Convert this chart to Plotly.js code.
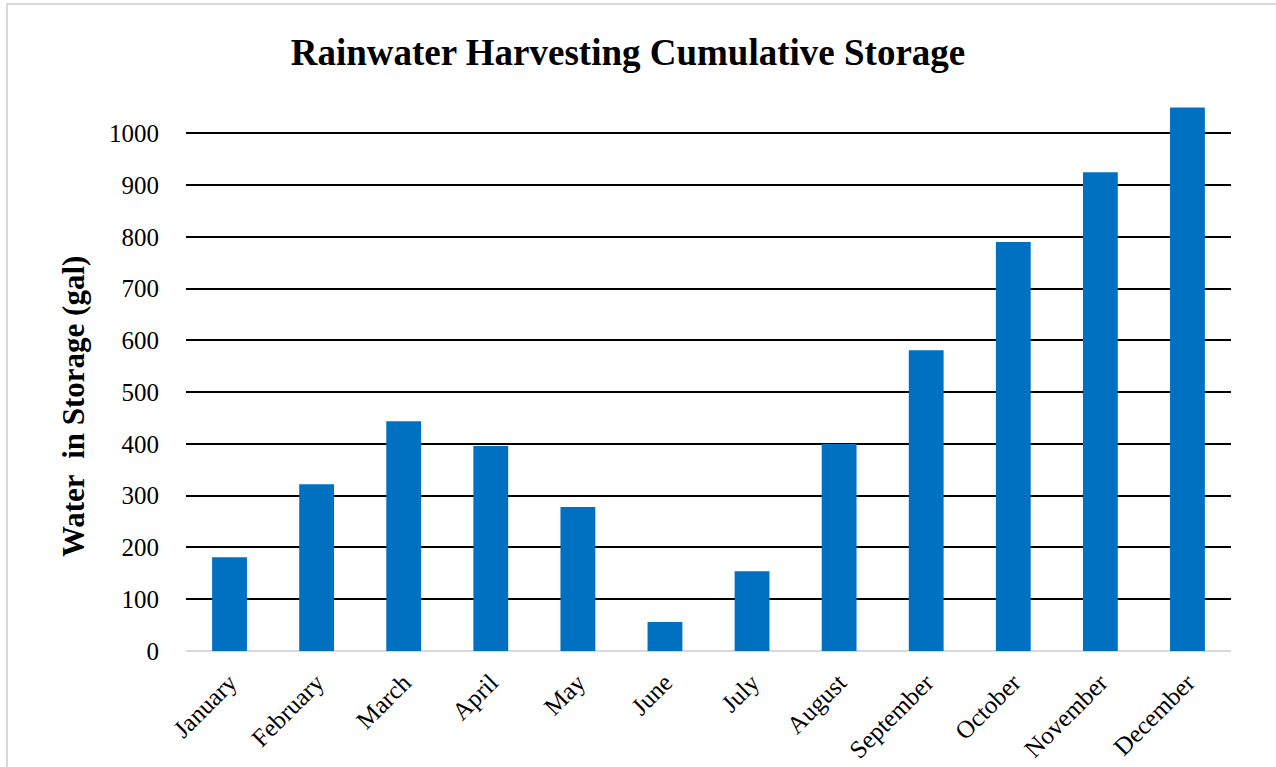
<!DOCTYPE html>
<html>
<head>
<meta charset="utf-8">
<script src="https://cdn.plot.ly/plotly-3.0.1.min.js"></script>
<style>
  html, body { margin: 0; padding: 0; background: #fff; overflow: hidden; }
  #frame { position: absolute; left: 6px; top: 3px; width: 1400px; height: 900px; border-left: 2px solid #d9d9d9; border-top: 2px solid #d9d9d9; }
  #chart { position: absolute; left: 0; top: 0; width: 1276px; height: 767px; }
</style>
</head>
<body>
<div id="frame"></div>
<div id="chart"></div>
<script>
const months = ["January", "February", "March", "April", "May", "June", "July", "August", "September", "October", "November", "December"];
const storage = [181, 322, 444, 396, 278, 56, 154, 400, 581, 790, 925, 1050];
const yTicks = [0, 100, 200, 300, 400, 500, 600, 700, 800, 900, 1000];

const serif = "'Liberation Serif', 'Times New Roman', serif";

const trace = {
  type: "bar",
  x: months,
  y: storage,
  marker: { color: "#0070C0" },
  hoverinfo: "x+y"
};

const layout = {
  width: 1276,
  height: 767,
  paper_bgcolor: "rgba(0,0,0,0)",
  plot_bgcolor: "rgba(0,0,0,0)",
  margin: { l: 186, r: 45, t: 107, b: 116 },
  bargap: 0.6,
  showlegend: false,
  font: { family: serif, color: "#000" },
  title: {
    text: "<b>Rainwater Harvesting Cumulative Storage</b>",
    font: { family: serif, size: 37, color: "#000" },
    x: (628 + 0) / 1276, xanchor: "center",
    y: 1 - 52 / 767, yanchor: "middle"
  },
  xaxis: {
    type: "category",
    tickangle: -45,
    tickfont: { family: serif, size: 25, color: "#000" },
    showgrid: false,
    showline: false,
    zeroline: false,
    ticks: "outside",
    ticklen: 6,
    tickcolor: "rgba(0,0,0,0)"
  },
  yaxis: {
    range: [0, 1051],
    tickvals: yTicks,
    ticktext: yTicks.map(String),
    tickfont: { family: serif, size: 25, color: "#000" },
    showgrid: true,
    gridcolor: "#000",
    gridwidth: 2,
    zeroline: true,
    zerolinecolor: "#d9d9d9",
    zerolinewidth: 2,
    showline: false,
    ticks: "outside",
    ticklen: 21,
    tickcolor: "rgba(0,0,0,0)"
  },
  annotations: [{
    text: "<b>Water\u00a0 in Storage (gal)</b>",
    xref: "paper", yref: "paper",
    x: (73 - 186) / (1276 - 186 - 45),
    y: (651 - 407) / (651 - 107),
    xanchor: "center", yanchor: "middle",
    textangle: -90,
    showarrow: false,
    font: { family: serif, size: 31, color: "#000" }
  }]
};

Plotly.newPlot("chart", [trace], layout, { displayModeBar: false, staticPlot: true });
</script>
</body>
</html>
